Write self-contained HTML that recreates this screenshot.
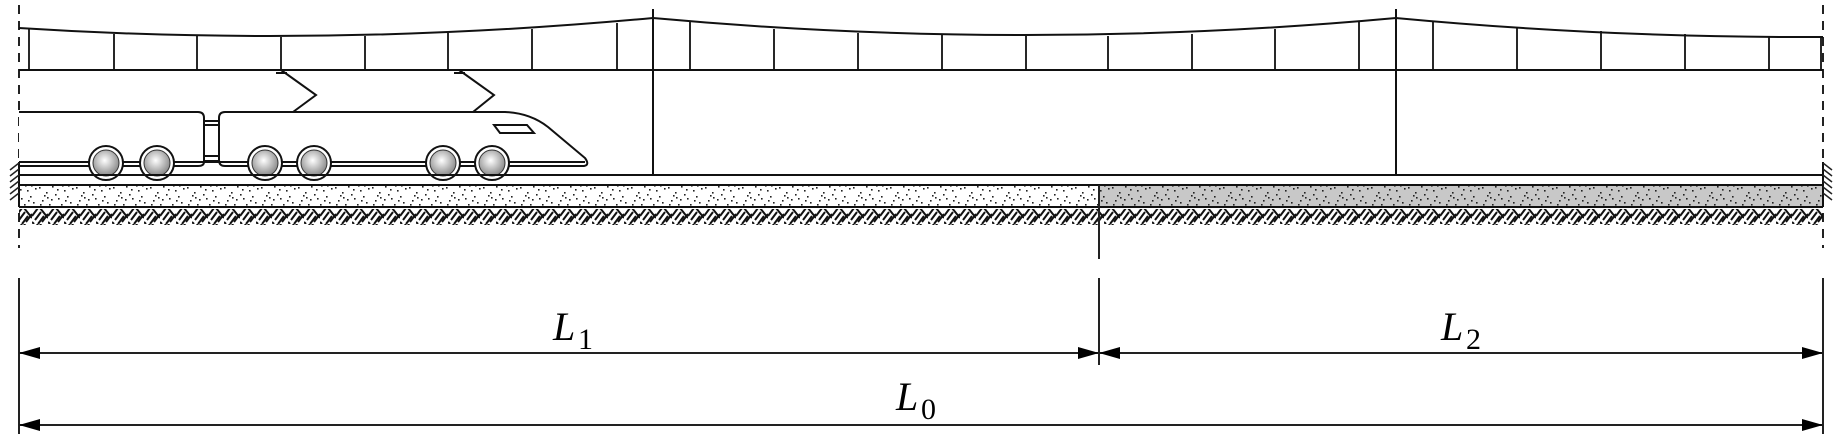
<!DOCTYPE html>
<html><head><meta charset="utf-8"><style>
html,body{margin:0;padding:0;background:#fff;}
svg{display:block;}
text{font-family:"Liberation Serif",serif;font-style:italic;fill:#000;}
</style></head><body>
<svg width="1836" height="444" viewBox="0 0 1836 444" xmlns="http://www.w3.org/2000/svg">
<defs>
<pattern id="dots" width="37" height="23" patternUnits="userSpaceOnUse">
<g fill="#222">
<rect x="2" y="3" width="1.6" height="1.6"/><rect x="9" y="8" width="1.6" height="1.6"/><rect x="15" y="2" width="1.6" height="1.6"/>
<rect x="21" y="14" width="1.6" height="1.6"/><rect x="27" y="6" width="1.6" height="1.6"/><rect x="33" y="18" width="1.6" height="1.6"/>
<rect x="5" y="16" width="1.6" height="1.6"/><rect x="12" y="20" width="1.6" height="1.6"/><rect x="18" y="10" width="1.6" height="1.6"/>
<rect x="30" y="12" width="1.6" height="1.6"/><rect x="24" y="20" width="1.6" height="1.6"/><rect x="7" y="11" width="1.6" height="1.6"/>
<rect x="35" y="4" width="1.6" height="1.6"/><rect x="25" y="1" width="1.6" height="1.6"/><rect x="14" y="15" width="1.6" height="1.6"/>
<rect x="3" y="20" width="1.6" height="1.6"/><rect x="20" y="5" width="1.6" height="1.6"/><rect x="31" y="1" width="1.6" height="1.6"/>
<rect x="28" y="16" width="1.6" height="1.6"/><rect x="10" y="13" width="1.6" height="1.6"/>
</g></pattern>
<pattern id="herr" width="16" height="16" patternUnits="userSpaceOnUse">
<g stroke="#111" stroke-width="2">
<line x1="0" y1="8" x2="6" y2="0"/><line x1="3" y1="12" x2="9" y2="4"/><line x1="6" y1="16" x2="12" y2="8"/>
<line x1="8" y1="0" x2="16" y2="10"/><line x1="10" y1="14" x2="16" y2="6"/><line x1="0" y1="14" x2="2" y2="16"/>
</g></pattern>
<radialGradient id="wg" cx="0.45" cy="0.4" r="0.6"><stop offset="0" stop-color="#fff"/><stop offset="1" stop-color="#888"/></radialGradient>
</defs>

<line x1="19" y1="5" x2="19" y2="248" stroke="#222" stroke-width="2" stroke-dasharray="9,7"/>
<line x1="1823" y1="5" x2="1823" y2="248" stroke="#222" stroke-width="2" stroke-dasharray="9,7"/>

<g stroke="#111" stroke-width="2" fill="none">
<path d="M19,28 Q330,48 653,18 Q1024,52 1396,18 Q1610,38 1823,37"/>
<line x1="19" y1="70" x2="1823" y2="70"/>
<line x1="653" y1="9" x2="653" y2="175"/>
<line x1="1396" y1="9" x2="1396" y2="175"/>
</g>
<g stroke="#111" stroke-width="1.8">
<line x1="29" y1="29" x2="29" y2="70"/><line x1="114" y1="34" x2="114" y2="70"/><line x1="197" y1="36" x2="197" y2="70"/>
<line x1="281" y1="37" x2="281" y2="70"/><line x1="365" y1="36" x2="365" y2="70"/><line x1="448" y1="33" x2="448" y2="70"/>
<line x1="532" y1="29" x2="532" y2="70"/><line x1="617" y1="23" x2="617" y2="70"/>
<line x1="690" y1="22" x2="690" y2="70"/><line x1="774" y1="29" x2="774" y2="70"/><line x1="858" y1="33" x2="858" y2="70"/>
<line x1="942" y1="35" x2="942" y2="70"/><line x1="1026" y1="36" x2="1026" y2="70"/><line x1="1108" y1="36" x2="1108" y2="70"/>
<line x1="1192" y1="34" x2="1192" y2="70"/><line x1="1275" y1="29" x2="1275" y2="70"/><line x1="1359" y1="22" x2="1359" y2="70"/>
<line x1="1433" y1="22" x2="1433" y2="70"/><line x1="1517" y1="27" x2="1517" y2="70"/><line x1="1601" y1="31" x2="1601" y2="70"/>
<line x1="1685" y1="34" x2="1685" y2="70"/><line x1="1769" y1="36" x2="1769" y2="70"/><line x1="1821" y1="37" x2="1821" y2="70"/>
</g>

<g stroke="#111" stroke-width="2" fill="none">
<polyline points="281,70 316,95 293,112"/><line x1="276" y1="73" x2="287" y2="73"/>
<polyline points="459,70 494,95 473,112"/><line x1="454" y1="73" x2="465" y2="73"/>
</g>

<g stroke="#111" stroke-width="2" fill="#fff">
<path d="M19,112 L198,112 Q204,112 204,118 L204,162 Q204,166 198,166 L19,166"/>
<path d="M225,112 L505,112 Q530,113 548,127 L585,158 Q590,165 584,166 L225,166 Q219,166 219,160 L219,118 Q219,112 225,112 Z"/>
<rect x="204" y="121" width="15" height="40" fill="#fff"/>
<line x1="204" y1="125" x2="219" y2="125"/><line x1="204" y1="156" x2="219" y2="156"/>
<path d="M494,125 L527,125 L534,133 L500,133 Z"/>
<line x1="19" y1="162" x2="585" y2="162"/>
</g>
<g stroke="#111" stroke-width="2" fill="#fff">
<circle cx="106" cy="163" r="17"/><circle cx="157" cy="163" r="17"/>
<circle cx="265" cy="163" r="17"/><circle cx="314" cy="163" r="17"/>
<circle cx="443" cy="163" r="17"/><circle cx="492" cy="163" r="17"/>
</g>
<g stroke="#333" stroke-width="1" fill="url(#wg)">
<circle cx="106" cy="163" r="13"/><circle cx="157" cy="163" r="13"/>
<circle cx="265" cy="163" r="13"/><circle cx="314" cy="163" r="13"/>
<circle cx="443" cy="163" r="13"/><circle cx="492" cy="163" r="13"/>
</g>

<rect x="19" y="185" width="1080" height="22" fill="#fff"/>
<rect x="1099" y="185" width="724" height="22" fill="#c8c8c8"/>
<rect x="19" y="185" width="1804" height="22" fill="url(#dots)"/>
<rect x="19" y="209" width="1804" height="16" fill="url(#herr)"/>
<g stroke="#111" stroke-width="2" fill="none">
<line x1="19" y1="175" x2="1823" y2="175"/>
<line x1="19" y1="185" x2="1823" y2="185"/>
<line x1="19" y1="207" x2="1823" y2="207"/>
<line x1="19" y1="162" x2="19" y2="207"/>
<line x1="1823" y1="162" x2="1823" y2="207"/>
</g>
<g stroke="#222" stroke-width="1.5">
<line x1="19" y1="163" x2="10" y2="170"/><line x1="19" y1="169" x2="10" y2="176"/><line x1="19" y1="175" x2="10" y2="182"/>
<line x1="19" y1="181" x2="10" y2="188"/><line x1="19" y1="187" x2="10" y2="194"/><line x1="19" y1="193" x2="10" y2="200"/>
<line x1="1823" y1="163" x2="1832" y2="170"/><line x1="1823" y1="169" x2="1832" y2="176"/><line x1="1823" y1="175" x2="1832" y2="182"/>
<line x1="1823" y1="181" x2="1832" y2="188"/><line x1="1823" y1="187" x2="1832" y2="194"/><line x1="1823" y1="193" x2="1832" y2="200"/>
</g>

<g stroke="#222" stroke-width="2">
<line x1="1099" y1="185" x2="1099" y2="259"/>
<line x1="1099" y1="278" x2="1099" y2="365"/>
<line x1="19" y1="278" x2="19" y2="434"/>
<line x1="1823" y1="278" x2="1823" y2="434"/>
<line x1="19" y1="353" x2="1823" y2="353"/>
<line x1="19" y1="425" x2="1823" y2="425"/>
</g>
<g fill="#000">
<polygon points="19,353 40,347 40,359"/><polygon points="1099,353 1078,347 1078,359"/>
<polygon points="1099,353 1120,347 1120,359"/><polygon points="1823,353 1802,347 1802,359"/>
<polygon points="19,425 40,419 40,431"/><polygon points="1823,425 1802,419 1802,431"/>
</g>
<text x="553" y="340" font-size="40">L</text><text x="578" y="349" font-size="30" style="font-style:normal">1</text>
<text x="1441" y="340" font-size="40">L</text><text x="1466" y="349" font-size="30" style="font-style:normal">2</text>
<text x="896" y="410" font-size="40">L</text><text x="921" y="419" font-size="30" style="font-style:normal">0</text>
</svg>
</body></html>
